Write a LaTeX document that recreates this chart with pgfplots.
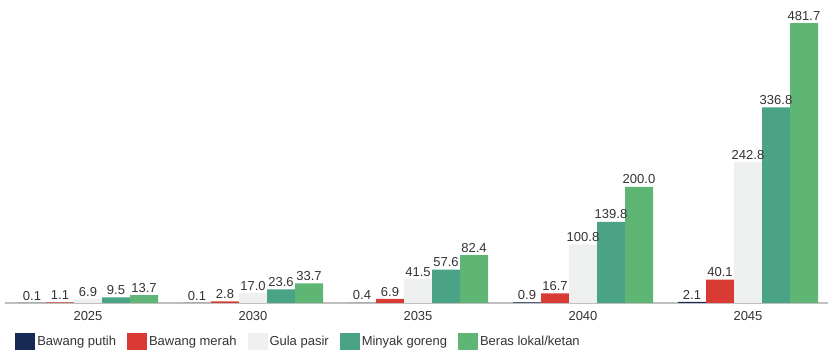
\documentclass[border=0pt]{standalone}
\usepackage{pgfplots}
\pgfplotsset{compat=1.18}
\usepackage{fontspec}
\setmainfont{Liberation Sans}

\definecolor{cPutih}{HTML}{172A55}
\definecolor{cMerah}{HTML}{DA3A34}
\definecolor{cGula}{HTML}{EEF0EF}
\definecolor{cMinyak}{HTML}{49A384}
\definecolor{cBeras}{HTML}{5FB573}
\definecolor{axisgray}{HTML}{BFBFBF}
\definecolor{labelgray}{HTML}{333333}

\begin{document}
\begin{tikzpicture}
\begin{axis}[
  scale only axis, width=825pt, height=303pt,
  xmin=-0.5, xmax=4.5, ymin=0, ymax=521.5,
  clip=false,
  ybar=0pt, bar width=28pt,
  axis x line=bottom, axis y line=none,
  axis line style={draw=axisgray, line width=1.2pt, -},
  xtick={0,1,2,3,4},
  xticklabels={2025,2030,2035,2040,2045},
  major tick length=0pt,
  /pgf/number format/assume math mode=true,
  xticklabel style={font=\fontsize{13}{15}\selectfont, text=labelgray, yshift=-5pt},
  nodes near coords,
  every node near coord/.append style={font=\fontsize{13}{15}\selectfont, text=labelgray, inner sep=2.5pt},
  /pgf/number format/.cd, fixed, fixed zerofill, precision=1, 1000 sep={},
  /pgfplots/.cd,
  legend columns=-1,
  legend style={draw=none, fill=none, at={(0.008,-0.128)}, anchor=west,
    font=\fontsize{13}{15}\selectfont, text=labelgray,
    /tikz/every even column/.append style={column sep=9pt}},
  legend image code/.code={\fill[#1] (0pt,-8.5pt) rectangle (20pt,8.5pt);},
]
\addplot[fill=cPutih, draw=none] coordinates {(0,0.1) (1,0.1) (2,0.4) (3,0.9) (4,2.1)};
\addplot[fill=cMerah, draw=none] coordinates {(0,1.1) (1,2.8) (2,6.9) (3,16.7) (4,40.1)};
\addplot[fill=cGula, draw=none] coordinates {(0,6.9) (1,17.0) (2,41.5) (3,100.8) (4,242.8)};
\addplot[fill=cMinyak, draw=none] coordinates {(0,9.5) (1,23.6) (2,57.6) (3,139.8) (4,336.8)};
\addplot[fill=cBeras, draw=none] coordinates {(0,13.7) (1,33.7) (2,82.4) (3,200.0) (4,481.7)};
\legend{Bawang putih, Bawang merah, Gula pasir, Minyak goreng, Beras lokal/ketan}
\end{axis}
\pgfresetboundingbox
\path (-5.5pt,-50pt) rectangle (822.5pt,303pt);
\end{tikzpicture}
\end{document}
